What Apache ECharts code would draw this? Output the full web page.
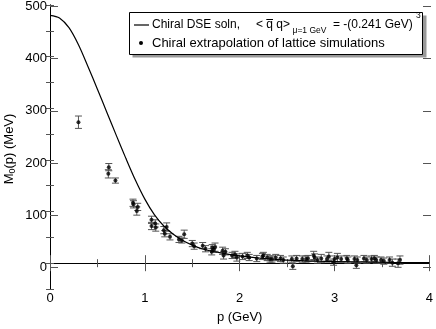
<!DOCTYPE html>
<head>
    <meta charset="utf-8">
    <title>Dynamical quark mass</title>
</head>
<body style="margin:0">
    <div id="main" style="height:329px;width:436px"></div>
    <script src="https://cdn.jsdelivr.net/npm/echarts@6/dist/echarts.min.js"></script>
    <script type="text/javascript">
    // DSE solution (solid curve)
    var curveP = [0, 0.1, 0.2, 0.3, 0.4, 0.5, 0.6, 0.7, 0.8, 0.9, 1.0, 1.1, 1.2, 1.3, 1.4, 1.5, 1.6, 1.8, 2.0, 2.2, 2.4, 2.8, 3.2, 3.6, 4.0];
    var curveM = [480, 475, 456, 423, 381, 337, 292, 247, 203, 161, 124, 94, 72, 56, 44, 35, 28, 20, 14, 10, 7, 4, 2.5, 1.5, 1];

    // lattice points: momentum, mass, error
    var latP = [0.30, 0.615, 0.62, 0.69, 0.875, 0.88, 0.915, 0.925, 1.07, 1.07, 1.11, 1.115, 1.20, 1.21, 1.23, 1.265,
        1.36, 1.39, 1.415, 1.50, 1.52, 1.61, 1.64, 1.705, 1.71, 1.725, 1.74, 1.82, 1.83, 1.85, 1.92, 1.95, 1.97,
        2.03, 2.08, 2.10, 2.18, 2.24, 2.25, 2.29, 2.32, 2.34, 2.38, 2.43, 2.46, 2.55, 2.56, 2.60, 2.66, 2.70, 2.72,
        2.78, 2.79, 2.82, 2.86, 2.92, 2.94, 2.99, 3.00, 3.03, 3.07, 3.13, 3.14, 3.21, 3.23, 3.24, 3.31, 3.34, 3.39,
        3.42, 3.44, 3.49, 3.52, 3.58, 3.61, 3.67, 3.69];
    var latM = [273, 173, 186, 160, 117, 114, 101, 109, 84, 72, 77, 69, 64, 57, 70, 51,
        46, 44, 56, 38, 33, 34, 28, 22, 30, 27, 31, 24, 15, 22, 15, 17, 11,
        13, 15, 11, 9, 13, 15, 11, 8, 8, 11, 9, 6, 8, -6, 9, 8, 8, 9,
        15, 11, 6, 9, 8, 13, 2, 8, 11, 8, 9, 6, 8, -4, 6, 9, 6, 8,
        9, 6, 6, 4, 6, 1, 0, 6];
    var latErr = [12, 8, 7, 5, 7, 7, 8, 7, 7, 7, 7, 7, 7, 6, 8, 6,
        6, 5, 8, 6, 6, 6, 6, 6, 6, 6, 8, 7, 7, 6, 6, 6, 7,
        6, 6, 6, 6, 6, 6, 6, 6, 6, 6, 6, 6, 6, 6, 6, 6, 6, 6,
        8, 7, 6, 8, 6, 8, 6, 6, 8, 6, 6, 6, 6, 6, 6, 6, 6, 6,
        6, 6, 6, 6, 6, 7, 8, 8];

    var xTicks = [0, 1, 2, 3, 4];
    var yTicks = [0, 100, 200, 300, 400, 500];

    var curveData = [];
    for (var i = 0; i < curveP.length; i++) curveData.push([curveP[i], curveM[i]]);
    var latData = [];
    for (var j = 0; j < latP.length; j++) latData.push([latP[j], latM[j], latErr[j]]);

    var font = "'Liberation Sans', Arial, sans-serif";
    var myChart = echarts.init(document.getElementById('main'));

    // legend line 1 pieces: place "< q q>" so it ends at x=290, overline above the first q
    var ctx = document.createElement('canvas').getContext('2d');
    ctx.font = '12px ' + font;
    var vevText = '< q q>';
    var vevX = 290 - ctx.measureText(vevText).width;
    var qX = vevX + ctx.measureText('< ').width;
    var qW = ctx.measureText('q').width;

    var minorY = {
        type: 'value', gridIndex: 0, min: -50, max: 500, interval: 50,
        axisLine: { show: true, lineStyle: { color: '#000' } },
        axisTick: { inside: true, length: 4, lineStyle: { color: '#555' } },
        axisLabel: { show: false }, splitLine: { show: false }
    };
    var majorY = {
        type: 'value', gridIndex: 1, min: yTicks[0], max: yTicks[yTicks.length - 1], interval: 100,
        axisLine: { show: false },
        axisTick: { inside: true, length: 8, lineStyle: { color: '#555' } },
        axisLabel: { show: false }, splitLine: { show: false }
    };
    var xBase = {
        type: 'value', gridIndex: 0, min: xTicks[0], max: xTicks[xTicks.length - 1], interval: 1,
        axisLine: { show: true, lineStyle: { color: '#000' } },
        axisTick: { inside: true, length: 8, lineStyle: { color: '#555' } },
        minorTick: { show: true, splitNumber: 2, length: 4, lineStyle: { color: '#555' } },
        axisLabel: { show: false }, splitLine: { show: false }
    };

    var option = {
        animation: false,
        backgroundColor: '#fff',
        grid: [
            { left: 50, top: 5, width: 381, height: 288 },
            { left: 50, top: 5, width: 381, height: 262.3 }
        ],
        xAxis: [
            echarts.util.merge({
                position: 'bottom',
                name: 'p (GeV)', nameLocation: 'middle', nameGap: 22,
                nameTextStyle: { fontFamily: font, fontSize: 13, color: '#000' },
                axisLabel: { show: true, margin: 3, fontFamily: font, fontSize: 13, color: '#000' }
            }, xBase, false),
            echarts.util.merge({ position: 'top' }, xBase, false),
            { type: 'value', gridIndex: 1, min: 0, max: 4, show: false }
        ],
        yAxis: [
            echarts.util.merge({ position: 'left' }, minorY, false),
            echarts.util.merge({ position: 'right' }, minorY, false),
            echarts.util.merge({
                position: 'left',
                axisLabel: { show: true, margin: 3, fontFamily: font, fontSize: 13, color: '#000' }
            }, majorY, false),
            echarts.util.merge({ position: 'right' }, majorY, false)
        ],
        graphic: [
            // legend box with shadow
            { type: 'rect', shape: { x: 132.5, y: 15.5, width: 294, height: 42 }, style: { fill: '#999' }, z: 10 },
            { type: 'rect', shape: { x: 129.5, y: 12.5, width: 293, height: 42 }, style: { fill: '#fff', stroke: '#000', lineWidth: 1 }, z: 11 },
            { type: 'line', shape: { x1: 134, y1: 25, x2: 149, y2: 25 }, style: { stroke: '#000', lineWidth: 1.2 }, z: 12 },
            { type: 'circle', shape: { cx: 141, cy: 43, r: 2 }, style: { fill: '#000' }, z: 12 },
            { type: 'text', x: 152, y: 25, z: 12, style: { text: 'Chiral DSE soln,', font: '12px ' + font, fill: '#000', verticalAlign: 'middle' } },
            { type: 'text', x: vevX, y: 25, z: 12, style: { text: vevText, font: '12px ' + font, fill: '#000', verticalAlign: 'middle' } },
            { type: 'line', shape: { x1: qX, y1: 19.5, x2: qX + qW, y2: 19.5 }, style: { stroke: '#000', lineWidth: 1 }, z: 12 },
            { type: 'text', x: 292.5, y: 30.5, z: 12, style: { text: 'μ=1 GeV', font: '8.5px ' + font, fill: '#000', verticalAlign: 'middle' } },
            { type: 'text', x: 333, y: 25, z: 12, style: { text: '= -(0.241 GeV)', font: '12px ' + font, fill: '#000', verticalAlign: 'middle' } },
            { type: 'text', x: 416, y: 15.5, z: 12, style: { text: '3', font: '8.5px ' + font, fill: '#000', verticalAlign: 'middle' } },
            { type: 'text', x: 152, y: 43, z: 12, style: { text: 'Chiral extrapolation of lattice simulations', font: '13px ' + font, fill: '#000', verticalAlign: 'middle' } },
            // y axis title
            {
                type: 'text', x: 9, y: 149, rotation: Math.PI / 2, z: 12,
                style: {
                    text: '{a|M}{b|0}{a|(p) (MeV)}', align: 'center', verticalAlign: 'middle',
                    rich: {
                        a: { fontFamily: font, fontSize: 13, fill: '#000', verticalAlign: 'middle', lineHeight: 16 },
                        b: { fontFamily: font, fontSize: 9, fill: '#000', verticalAlign: 'bottom', lineHeight: 16 }
                    }
                }
            }
        ],
        series: [
            {
                type: 'line', xAxisIndex: 0, yAxisIndex: 0, data: curveData,
                smooth: 0.3, showSymbol: false,
                lineStyle: { color: '#000', width: 1.2 }
            },
            {
                type: 'custom', xAxisIndex: 0, yAxisIndex: 0, data: latData,
                renderItem: function (params, api) {
                    var x = api.value(0), y = api.value(1), e = api.value(2);
                    var top = api.coord([x, y + e]);
                    var bot = api.coord([x, y - e]);
                    var w = 3.5;
                    var st = { stroke: '#555', lineWidth: 1 };
                    return {
                        type: 'group',
                        children: [
                            { type: 'line', shape: { x1: top[0], y1: top[1], x2: bot[0], y2: bot[1] }, style: st },
                            { type: 'line', shape: { x1: top[0] - w, y1: top[1], x2: top[0] + w, y2: top[1] }, style: st },
                            { type: 'line', shape: { x1: bot[0] - w, y1: bot[1], x2: bot[0] + w, y2: bot[1] }, style: st }
                        ]
                    };
                }
            },
            {
                type: 'scatter', xAxisIndex: 0, yAxisIndex: 0, data: latData,
                symbol: 'circle', symbolSize: 4, itemStyle: { color: '#000' }
            }
        ]
    };
    // tick labels for the major y axis
    option.yAxis[2].axisLabel.formatter = function (v) { return yTicks.indexOf(v) >= 0 ? String(v) : ''; };
    myChart.setOption(option);
    </script>
</body>
